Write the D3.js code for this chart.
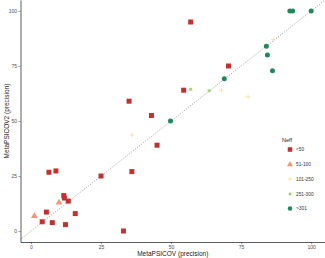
<!DOCTYPE html>
<html>
<head>
<meta charset="utf-8">
<script src="https://cdn.jsdelivr.net/npm/d3@7"></script>
<style>
  body { margin: 0; background: #fff; }
  svg { display: block; font-family: "Liberation Sans", Arial, sans-serif; }
</style>
</head>
<body>
<script>
// values, one array per Neff group
const groups = ["<50", "51-100", "101-250", "251-300", ">301"];
const colors = ["#c1312f", "#f2957a", "#f7e39a", "#98cf6a", "#1f8a57"];

const lt50X = [57, 35, 43, 70.5, 54.5, 45, 36, 25, 6.4, 8.9, 11.7, 11.9, 13.3, 15.8, 5.5, 4, 7.6, 12.3, 33];
const lt50Y = [95, 59, 52.5, 75, 64, 39, 27, 25, 26.7, 27.3, 16.1, 15, 13.6, 7.9, 8.6, 4.2, 3.8, 2.9, 0];
const n51X = [1.2, 10];
const n51Y = [6.8, 12.9];
const n101X = [36, 68, 77.5, 86.5];
const n101Y = [43.6, 64, 61, 87];
const n251X = [57, 63.6];
const n251Y = [64.4, 63.8];
const n301X = [92.4, 93.4, 100, 84, 84.4, 86.2, 69, 49.8];
const n301Y = [100, 100, 100, 84, 80, 72.8, 69.2, 50];

const xTicks = [0, 25, 50, 75, 100];
const yTicks = [0, 25, 50, 75, 100];

const series = [
  { key: groups[0], xs: lt50X, ys: lt50Y },
  { key: groups[1], xs: n51X, ys: n51Y },
  { key: groups[2], xs: n101X, ys: n101Y },
  { key: groups[3], xs: n251X, ys: n251Y },
  { key: groups[4], xs: n301X, ys: n301Y }
];

let width = 325;
let height = 258;

let x = d3.scaleLinear().domain([-3.75, 104.95]).range([20.5, 325]);
let y = d3.scaleLinear().domain([-5, 105]).range([242, 0]);

let svg = d3.select("body").append("svg")
    .attr("width", width)
    .attr("height", height)
    .attr("viewBox", [0, 0, width, height]);

// y = x reference line
svg.append("line")
    .attr("x1", x(-3.75)).attr("y1", y(-3.75))
    .attr("x2", x(104.95)).attr("y2", y(104.95))
    .attr("stroke", "#555")
    .attr("stroke-width", 0.6)
    .attr("stroke-dasharray", "1,1.6");

// shape per group
function drawMark(g, i, size) {
  const c = colors[i];
  if (i === 0) {
    g.append("rect").attr("x", -size / 2).attr("y", -size / 2)
        .attr("width", size).attr("height", size).attr("fill", c);
  } else if (i === 1) {
    g.append("path").attr("d", d3.symbol(d3.symbolTriangle, size * size * 0.8)()).attr("fill", c);
  } else if (i === 2) {
    const h = size * 0.45;
    g.append("path").attr("d", `M${-h},0H${h}M0,${-h}V${h}`)
        .attr("stroke", c).attr("stroke-width", 0.9);
  } else if (i === 3) {
    const h = size * 0.35;
    g.append("path").attr("d", `M${-h},0H${h}M0,${-h}V${h}M${-h * 0.7},${-h * 0.7}L${h * 0.7},${h * 0.7}M${-h * 0.7},${h * 0.7}L${h * 0.7},${-h * 0.7}`)
        .attr("stroke", c).attr("stroke-width", 0.9);
  } else {
    g.append("circle").attr("r", size / 2).attr("fill", c);
  }
}

// points
series.forEach((s, i) => {
  const pts = s.xs.map((v, k) => [v, s.ys[k]]);
  svg.append("g").selectAll("g")
      .data(pts)
      .join("g")
      .attr("transform", d => `translate(${x(d[0])},${y(d[1])})`)
      .each(function() { drawMark(d3.select(this), i, 5); });
});

// x axis
svg.append("g")
    .attr("transform", `translate(0,${y(-5)})`)
    .call(d3.axisBottom(x).tickValues(xTicks).tickSize(2).tickPadding(1.5).tickSizeOuter(0))
    .call(g => g.select(".domain").attr("stroke", "#333").attr("stroke-width", 0.8))
    .call(g => g.selectAll(".tick line").attr("stroke", "#333").attr("stroke-width", 0.5))
    .call(g => g.selectAll("text").attr("fill", "#4d4d4d").style("font-size", "5px"));

// y axis
svg.append("g")
    .attr("transform", `translate(${x(-3.75)},0)`)
    .call(d3.axisLeft(y).tickValues(yTicks).tickSize(2).tickPadding(1.5).tickSizeOuter(0))
    .call(g => g.select(".domain").attr("stroke", "#333").attr("stroke-width", 0.8))
    .call(g => g.selectAll(".tick line").attr("stroke", "#333").attr("stroke-width", 0.5))
    .call(g => g.selectAll("text").attr("fill", "#4d4d4d").style("font-size", "5px"));

// axis titles
svg.append("text")
    .attr("x", (x(-3.75) + 325) / 2)
    .attr("y", 256)
    .attr("text-anchor", "middle")
    .attr("fill", "#222")
    .style("font-size", "6.5px")
    .text("MetaPSICOV (precision)");

svg.append("text")
    .attr("transform", `translate(8.5,${y(50)}) rotate(-90)`)
    .attr("text-anchor", "middle")
    .attr("fill", "#222")
    .style("font-size", "6.5px")
    .text("MetaPSICOV2 (precision)");

// legend
const legend = svg.append("g").attr("transform", "translate(282,0)");
legend.append("text")
    .attr("x", 0).attr("y", 142)
    .attr("fill", "#222")
    .style("font-size", "5.5px")
    .text("Neff");

const legendY = [149.5, 164.5, 179, 194, 208.5];
groups.forEach((name, i) => {
  const row = legend.append("g").attr("transform", `translate(8,${legendY[i]})`);
  drawMark(row, i, 4.5);
  row.append("text")
      .attr("x", 6).attr("y", 1.8)
      .attr("fill", "#333")
      .style("font-size", "4.8px")
      .text(name);
});
</script>
</body>
</html>
